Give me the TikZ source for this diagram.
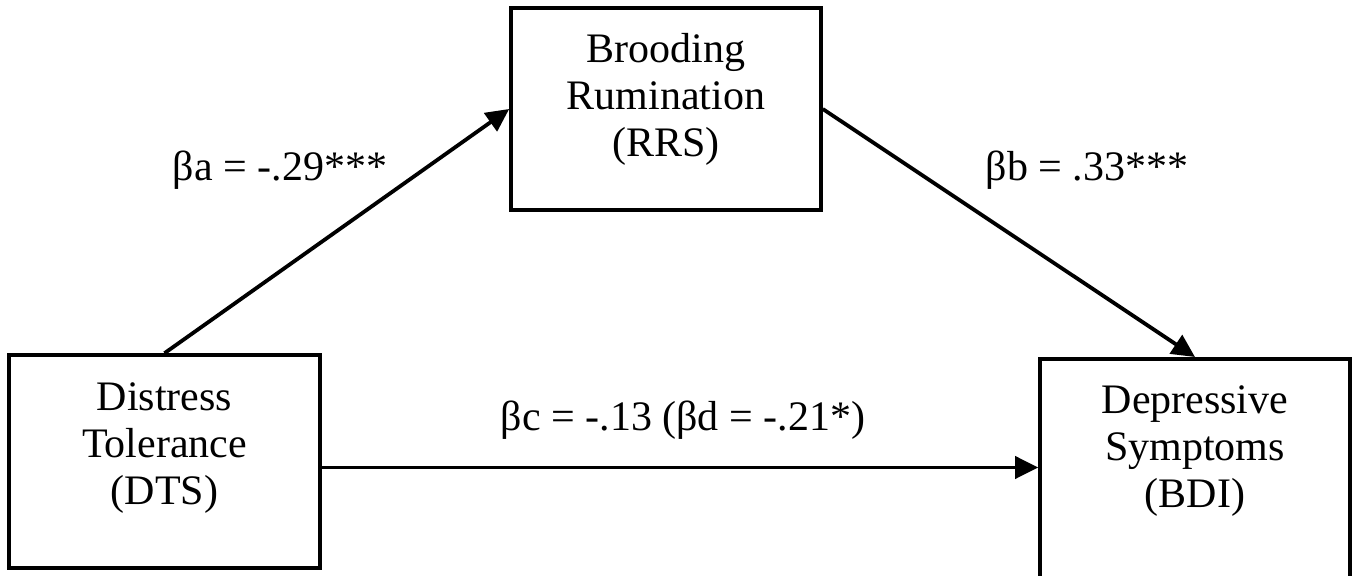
\documentclass[tikz,border=0pt]{standalone}
\usepackage{fontspec}
\setmainfont{Liberation Serif}
\usetikzlibrary{arrows.meta}
\begin{document}
\begin{tikzpicture}[x=0.5pt,y=-0.5pt,
    every node/.style={font=\fontsize{21}{23.5}\selectfont, align=center},
    box/.style={draw, line width=1.8pt, inner sep=0pt},
    path/.style={line width=1.9pt, -{Triangle[length=11.5pt,width=11pt]}}]
  \clip (0,0) rectangle (1357,576);
  % boxes
  \node[box, minimum width=155.5pt, minimum height=106.5pt] (dts) at (164.5,461.5) {};
  \node[box, minimum width=155pt, minimum height=101pt] (rrs) at (666,109) {};
  \node[box, minimum width=155pt, minimum height=150pt, anchor=north] (bdi) at (1195,357) {};
  \node (dtst) at (164.5,448) {Distress\\Tolerance\\(DTS)};
  \node (rrst) at (666,99) {Brooding\\Rumination\\(RRS)};
  \node (bdit) at (1195,451) {Depressive\\Symptoms\\(BDI)};
  % paths
  \draw[path] (dts.north) -- (rrs.west);
  \draw[path] (rrs.east) -- (bdi.north);
  \draw[path] ([yshift=-3pt]dts.east) -- ([yshift=-3pt]dts.east -| bdi.west);
  \node (a) at (280,170) {βa = -.29***};
  \node (b) at (1087,170) {βb = .33***};
  \node (c) at (683,420) {βc = -.13 (βd = -.21*)};
\end{tikzpicture}
\end{document}
